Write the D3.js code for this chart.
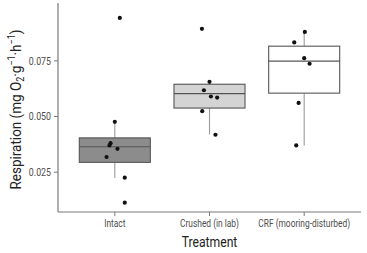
<!DOCTYPE html>
<html>
<head>
<meta charset="utf-8">
<script src="https://cdn.jsdelivr.net/npm/d3@7"></script>
<style>
  body { margin: 0; background: #fff; }
  svg text { font-family: "Roboto", "Liberation Sans", sans-serif; }
</style>
</head>
<body>
<div class="chart"></div>
<script>
// Categories and box stats
const treatments = ["Intact", "Crushed (in lab)", "CRF (mooring-disturbed)"];
const boxFills = ["#8c8c8c", "#d4d4d4", "#ffffff"];
const q1 = [0.0294, 0.0538, 0.0605];
const medians = [0.0364, 0.0603, 0.0749];
const q3 = [0.0404, 0.0645, 0.0816];
const whiskLow = [0.0224, 0.0419, 0.0370];
const whiskHigh = [0.0476, 0.0656, 0.0880];

// Individual observations (value, jitter offset in category units)
const intactVals = [0.0943, 0.0476, 0.0380, 0.0370, 0.0355, 0.0318, 0.0225, 0.0113];
const intactJit = [0.053, 0, -0.045, -0.056, 0.028, -0.087, 0.105, 0.105];
const crushedVals = [0.0894, 0.0656, 0.0618, 0.0590, 0.0585, 0.0524, 0.0418];
const crushedJit = [-0.08, 0, -0.059, 0.015, 0.081, -0.077, 0.063];
const crfVals = [0.0880, 0.0833, 0.0762, 0.0737, 0.0561, 0.0370];
const crfJit = [0.007, -0.105, 0, 0.057, -0.059, -0.084];

const yTicks = [0.025, 0.050, 0.075];

const W = 367, H = 253;
const margin = { top: 3, right: 6, bottom: 41, left: 58 };
const width = W - margin.left - margin.right;
const height = H - margin.top - margin.bottom;

const svg = d3.select(".chart")
    .append("svg")
    .attr("width", W)
    .attr("height", H)
    .append("g")
    .attr("transform", `translate(${margin.left},${margin.top})`);

// continuous x in category units: 0.4 .. 3.6 like ggplot
const x = d3.scaleLinear().domain([0.4, 3.6]).range([0, width]);
const y = d3.scaleLinear().domain([0.0071, 0.1010]).range([height, 0]);
const bw = 0.375; // half box width
const narrow = 0.84; // the original font is a condensed face

const boxes = treatments.map((t, i) => ({
    i: i + 1, fill: boxFills[i],
    q1: q1[i], med: medians[i], q3: q3[i], lo: whiskLow[i], hi: whiskHigh[i]
}));

// whiskers
svg.selectAll(".whisker-lo").data(boxes).enter().append("line")
    .attr("x1", d => x(d.i)).attr("x2", d => x(d.i))
    .attr("y1", d => y(d.q1)).attr("y2", d => y(d.lo))
    .attr("stroke", "#9a9a9a").attr("stroke-width", 1.1);
svg.selectAll(".whisker-hi").data(boxes).enter().append("line")
    .attr("x1", d => x(d.i)).attr("x2", d => x(d.i))
    .attr("y1", d => y(d.q3)).attr("y2", d => y(d.hi))
    .attr("stroke", "#9a9a9a").attr("stroke-width", 1.1);

// boxes
svg.selectAll(".box").data(boxes).enter().append("rect")
    .attr("x", d => x(d.i - bw))
    .attr("width", d => x(d.i + bw) - x(d.i - bw))
    .attr("y", d => y(d.q3))
    .attr("height", d => y(d.q1) - y(d.q3))
    .attr("fill", d => d.fill)
    .attr("stroke", "#555")
    .attr("stroke-width", 1.1);

svg.selectAll(".median").data(boxes).enter().append("line")
    .attr("x1", d => x(d.i - bw)).attr("x2", d => x(d.i + bw))
    .attr("y1", d => y(d.med)).attr("y2", d => y(d.med))
    .attr("stroke", "#555").attr("stroke-width", 1.1);

// points
const points = [];
[[intactVals, intactJit], [crushedVals, crushedJit], [crfVals, crfJit]].forEach((p, gi) => {
    p[0].forEach((v, j) => points.push({ g: gi + 1, v: v, j: p[1][j] }));
});
svg.selectAll(".pt").data(points).enter().append("circle")
    .attr("cx", d => x(d.g + d.j))
    .attr("cy", d => y(d.v))
    .attr("r", 2.1)
    .attr("fill", "#111");

// axes
const axisColor = "#7a7a7a";
svg.append("line")
    .attr("x1", 0).attr("x2", 0).attr("y1", 0).attr("y2", height)
    .attr("stroke", axisColor).attr("stroke-width", 1.2);
svg.append("line")
    .attr("x1", 0).attr("x2", width).attr("y1", height).attr("y2", height)
    .attr("stroke", axisColor).attr("stroke-width", 1.2);

svg.selectAll(".ytick").data(yTicks).enter().append("line")
    .attr("x1", -4).attr("x2", 0)
    .attr("y1", d => y(d)).attr("y2", d => y(d))
    .attr("stroke", axisColor);
svg.selectAll(".ylab").data(yTicks).enter().append("text")
    .attr("transform", d => `translate(-7,${y(d)}) scale(${narrow},1)`)
    .attr("dy", "0.35em")
    .attr("text-anchor", "end")
    .attr("font-size", 10.5)
    .attr("fill", "#4d4d4d")
    .text(d => d3.format(".3f")(d));

svg.selectAll(".xtick").data(treatments).enter().append("line")
    .attr("x1", (d, i) => x(i + 1)).attr("x2", (d, i) => x(i + 1))
    .attr("y1", height).attr("y2", height + 4)
    .attr("stroke", axisColor);
svg.selectAll(".xlab").data(treatments).enter().append("text")
    .attr("transform", (d, i) => `translate(${x(i + 1)},${height + 15}) scale(${narrow},1)`)
    .attr("text-anchor", "middle")
    .attr("font-size", 10)
    .attr("fill", "#4d4d4d")
    .text(d => d);

// axis titles
svg.append("text")
    .attr("transform", `translate(${x(2)},${height + 35}) scale(${narrow},1)`)
    .attr("text-anchor", "middle")
    .attr("font-size", 14.5)
    .attr("fill", "#222")
    .text("Treatment");

const yt = svg.append("text")
    .attr("transform", `translate(${-37},${height / 2 + 2}) rotate(-90) scale(0.9,1)`)
    .attr("text-anchor", "middle")
    .attr("font-size", 15)
    .attr("fill", "#222");
yt.append("tspan").text("Respiration (mg O");
yt.append("tspan").attr("font-size", 10).attr("dy", 3).text("2");
yt.append("tspan").attr("dy", -3).text("·g");
yt.append("tspan").attr("font-size", 10).attr("dy", -6).text("−1");
yt.append("tspan").attr("dy", 6).text("·h");
yt.append("tspan").attr("font-size", 10).attr("dy", -6).text("−1");
yt.append("tspan").attr("dy", 6).text(")");
</script>
</body>
</html>
